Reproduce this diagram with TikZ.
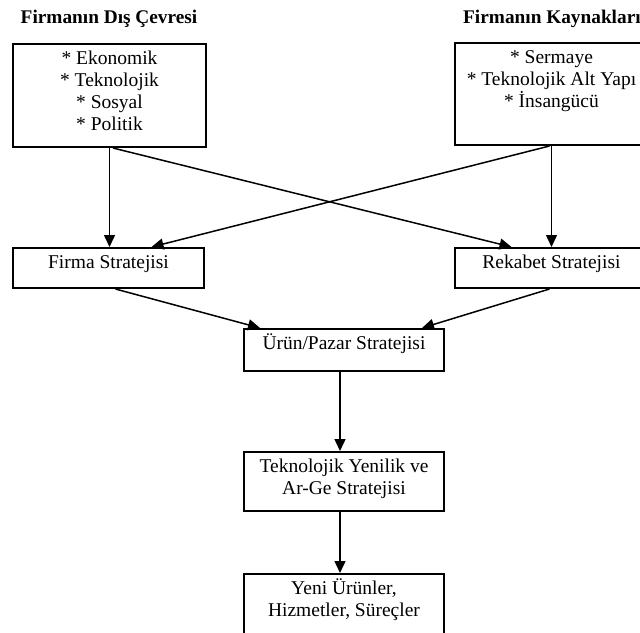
\documentclass[tikz,border=0pt]{standalone}
\usepackage{fontspec}
\setmainfont{Liberation Serif}
\usetikzlibrary{arrows.meta,calc}

% Box contents: fixed-size box, lines centred and hung from the top
\newcommand{\boxbody}[3]{\parbox[c][#2][t]{#1}{\centering\rule{0pt}{20pt}#3}}

\begin{document}
\begin{tikzpicture}[
  x=1pt, y=-1pt,
  every node/.style={font=\fontsize{19.5}{22}\selectfont, text=black},
  frame/.style={draw, line width=2pt, rectangle, inner sep=0pt, anchor=north west},
  heading/.style={font=\fontsize{19.3}{22}\selectfont\bfseries, inner sep=0pt},
  link/.style={line width=1.5pt, -{Triangle[length=12pt,width=11pt]}}
]
\useasboundingbox (0,0) rectangle (640,632);
\fill[white] (0,0) rectangle (640,632);
\clip (0,0) rectangle (640,632);

% headings
\node[heading, anchor=base] (envtitle) at (109,23) {Firmanın Dış Çevresi};
\node[heading, anchor=base west] (restitle) at (463,23) {Firmanın Kaynakları};

% source boxes
\node[frame] (env) at (12,43)
  {\boxbody{193pt}{103pt}{* Ekonomik\\{}* Teknolojik\\{}* Sosyal\\{}* Politik}};
\node[frame] (res) at (454,42)
  {\boxbody{193pt}{102pt}{* Sermaye\\{}* Teknolojik Alt Yapı\\{}* İnsangücü}};

% strategy boxes
\node[frame] (firm) at (12,247) {\boxbody{191pt}{40pt}{Firma Stratejisi}};
\node[frame] (rek) at (454,247) {\boxbody{193pt}{40pt}{Rekabet Stratejisi}};
\node[frame] (ur) at (243,328) {\boxbody{200pt}{42pt}{Ürün/Pazar Stratejisi}};
\node[frame] (tek) at (243,451)
  {\boxbody{200pt}{59pt}{Teknolojik Yenilik ve\\Ar-Ge Stratejisi}};
\node[frame] (yeni) at (243,573)
  {\boxbody{200pt}{65pt}{Yeni Ürünler,\\Hizmetler, Süreçler}};

% connectors
\draw[link] (env.south) -- (env.south |- firm.north);
\draw[link] ($(env.south)+(3.5,0)$) -- ($(rek.north)+(-40,0)$);
\draw[link] (res.south) -- (res.south |- rek.north);
\draw[link] ($(res.south)+(-2,0)$) -- ($(firm.north)+(43,0)$);
\draw[link] ($(firm.south)+(7,0)$) -- ($(ur.north)+(-84,0)$);
\draw[link] ($(rek.south)+(-2,0)$) -- ($(ur.north)+(78,0)$);
\draw[link] ($(ur.south)+(-4,0)$) -- ($(tek.north)+(-4,0)$);
\draw[link] ($(tek.south)+(-4,0)$) -- ($(yeni.north)+(-4,0)$);
\end{tikzpicture}
\end{document}
